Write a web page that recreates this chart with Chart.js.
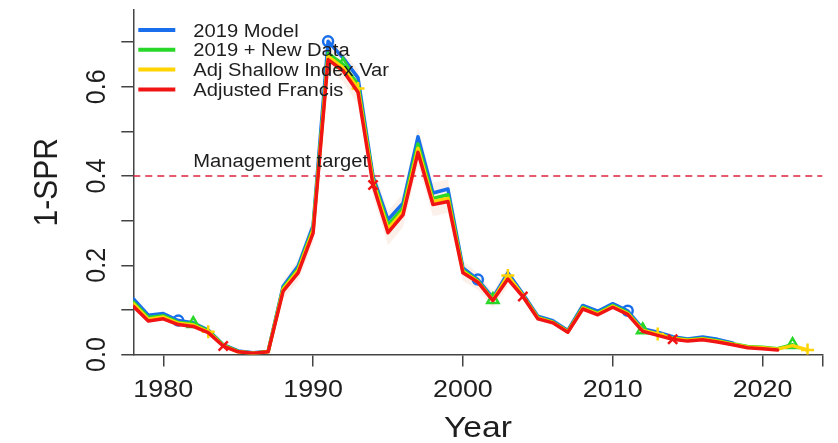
<!DOCTYPE html>
<html>
<head>
<meta charset="utf-8">
<title>1-SPR by year</title>
<script src="https://cdn.jsdelivr.net/npm/chart.js@4/dist/chart.umd.min.js"></script>
<style>
  html, body { margin: 0; padding: 0; background: #ffffff; }
  #wrap { width: 838px; height: 443px; position: relative; }
</style>
</head>
<body>
<div id="wrap"><canvas id="chart"></canvas></div>
<script>
// ---- data -------------------------------------------------------------
const years = [1978, 1979, 1980, 1981, 1982, 1983, 1984, 1985, 1986, 1987,
               1988, 1989, 1990, 1991, 1992, 1993, 1994, 1995, 1996, 1997,
               1998, 1999, 2000, 2001, 2002, 2003, 2004, 2005, 2006, 2007,
               2008, 2009, 2010, 2011, 2012, 2013, 2014, 2015, 2016, 2017,
               2018, 2019, 2020, 2021, 2022, 2023];

const seriesNames = ["2019 Model", "2019 + New Data", "Adj Shallow Index Var", "Adjusted Francis"];

// 1978-2018
const model2019 = [0.125, 0.088, 0.092, 0.076, 0.071, 0.055, 0.022, 0.008, 0.004, 0.007,
                   0.153, 0.198, 0.289, 0.702, 0.665, 0.620, 0.399, 0.302, 0.339, 0.488,
                   0.362, 0.371, 0.194, 0.168, 0.127, 0.183, 0.136, 0.086, 0.076, 0.054,
                   0.110, 0.097, 0.114, 0.098, 0.058, 0.050, 0.040, 0.035, 0.039, 0.034,
                   0.026];

// 1978-2022
const newData2019 = [0.118, 0.083, 0.087, 0.072, 0.069, 0.053, 0.021, 0.007, 0.003, 0.007,
                     0.149, 0.192, 0.282, 0.675, 0.650, 0.605, 0.392, 0.290, 0.328, 0.472,
                     0.350, 0.358, 0.189, 0.165, 0.123, 0.176, 0.133, 0.083, 0.073, 0.052,
                     0.106, 0.093, 0.110, 0.094, 0.055, 0.046, 0.037, 0.033, 0.036, 0.031,
                     0.024, 0.018, 0.016, 0.013, 0.022];

// 1978-2023
const adjShallowIndexVar = [0.114, 0.079, 0.084, 0.070, 0.066, 0.051, 0.020, 0.006, 0.003, 0.006,
                            0.146, 0.188, 0.278, 0.668, 0.643, 0.596, 0.387, 0.282, 0.320, 0.462,
                            0.343, 0.350, 0.186, 0.163, 0.122, 0.177, 0.132, 0.082, 0.072, 0.051,
                            0.104, 0.091, 0.108, 0.092, 0.054, 0.046, 0.036, 0.032, 0.035, 0.030,
                            0.023, 0.017, 0.015, 0.012, 0.020, 0.010];

// 1978-2021
const adjustedFrancis = [0.108, 0.075, 0.080, 0.067, 0.063, 0.049, 0.019, 0.006, 0.003, 0.006,
                         0.142, 0.183, 0.272, 0.661, 0.636, 0.588, 0.380, 0.273, 0.313, 0.453,
                         0.336, 0.343, 0.183, 0.162, 0.121, 0.169, 0.130, 0.080, 0.071, 0.050,
                         0.102, 0.089, 0.106, 0.090, 0.052, 0.043, 0.034, 0.030, 0.033, 0.028,
                         0.022, 0.015, 0.013, 0.010];

// faint uncertainty envelope around the peak years
const bandYears = [1988, 1989, 1990, 1991, 1992, 1993, 1994, 1995, 1996, 1997,
                   1998, 1999, 2000, 2001, 2002, 2003];
const bandLow   = [0.125, 0.165, 0.250, 0.640, 0.612, 0.560, 0.355, 0.245, 0.285, 0.425,
                   0.310, 0.318, 0.165, 0.145, 0.105, 0.152];
const bandHigh  = [0.165, 0.212, 0.305, 0.715, 0.680, 0.640, 0.420, 0.322, 0.360, 0.510,
                   0.385, 0.392, 0.210, 0.182, 0.140, 0.196];

// marker years for each series
const model2019Marks = [1981, 1991, 2001, 2011];
const newData2019Marks = [1982, 1992, 2002, 2012, 2022];
const adjShallowMarks = [1983, 1993, 2003, 2013, 2023];
const adjFrancisMarks = [1984, 1994, 2004, 2014];

const managementTarget = 0.4;
const managementLabel = "Management target";

// axes
const xRange = [1978, 2024];
const yRange = [0, 0.7722];
const xTickValues = [1980, 1990, 2000, 2010, 2020, 2024];
const xTickLabels = [1980, 1990, 2000, 2010, 2020];
const yTickValues = [0, 0.1, 0.2, 0.3, 0.4, 0.5, 0.6, 0.7];
const yTickLabels = [0, 0.2, 0.4, 0.6];
const xTitle = "Year";
const yTitle = "1-SPR";

// ---- styling ------------------------------------------------------------
const COLORS = ["rgb(25,110,235)", "rgb(40,215,40)", "rgb(255,212,0)", "rgb(240,20,20)"];
const AXIS_COLOR = "#444444";
const TEXT_COLOR = "#1e1e1e";
const FONT = '"Liberation Sans", Arial, sans-serif';
const SX = 1.12;   // horizontal text stretch

function toPoints(xs, ys) {
  return ys.map((v, i) => ({ x: xs[i], y: v }));
}

function seriesDataset(label, values, color, marks, style, radius, order) {
  return {
    label: label,
    data: toPoints(years, values),
    borderColor: color,
    borderWidth: 3.5,
    borderJoinStyle: "round",
    borderCapStyle: "round",
    tension: 0,
    fill: false,
    pointStyle: style,
    pointRadius: (ctx) => (ctx.raw && marks.includes(ctx.raw.x)) ? radius : 0,
    pointBorderColor: color,
    pointBackgroundColor: "rgba(0,0,0,0)",
    pointBorderWidth: 2.5,
    order: order
  };
}

function stretchText(ctx, str, x, y, opt) {
  ctx.save();
  ctx.translate(x, y);
  ctx.scale(SX, 1);
  if (opt.rot) ctx.rotate(-Math.PI / 2);
  ctx.font = opt.size + "px " + FONT;
  ctx.fillStyle = opt.color || TEXT_COLOR;
  ctx.textAlign = opt.align || "left";
  ctx.textBaseline = "alphabetic";
  ctx.fillText(str, 0, 0);
  ctx.restore();
}

const textPlugin = {
  id: "rText",
  afterDraw(chart) {
    const ctx = chart.ctx;
    const area = chart.chartArea;
    const xs = chart.scales.x;
    const ys = chart.scales.y;

    // tick labels
    xTickLabels.forEach((v) => {
      stretchText(ctx, String(v), xs.getPixelForValue(v), 397, { size: 24, align: "center" });
    });
    yTickLabels.forEach((v) => {
      stretchText(ctx, v.toFixed(1), 105, ys.getPixelForValue(v), { size: 25, align: "center", rot: true });
    });

    // axis titles
    stretchText(ctx, xTitle, (area.left + area.right) / 2, 437, { size: 30, align: "center" });
    stretchText(ctx, yTitle, 57, (area.top + area.bottom) / 2, { size: 30, align: "center", rot: true });

    // management target label
    stretchText(ctx, managementLabel, area.left + 60, ys.getPixelForValue(managementTarget) - 9, { size: 18 });

    // legend
    seriesNames.forEach((name, i) => {
      const y = area.top + 20 + i * 19.8;
      ctx.save();
      ctx.strokeStyle = COLORS[i];
      ctx.lineWidth = 4;
      ctx.beginPath();
      ctx.moveTo(area.left + 5, y);
      ctx.lineTo(area.left + 42, y);
      ctx.stroke();
      ctx.restore();
      stretchText(ctx, name, area.left + 60, y + 6.5, { size: 18 });
    });
  }
};

const chart = new Chart(document.getElementById("chart"), {
  type: "line",
  data: {
    datasets: [
      {
        label: "band low",
        data: toPoints(bandYears, bandLow),
        borderWidth: 0,
        borderColor: "rgba(0,0,0,0)",
        pointRadius: 0,
        fill: false,
        order: 20
      },
      {
        label: "band high",
        data: toPoints(bandYears, bandHigh),
        borderWidth: 0,
        borderColor: "rgba(0,0,0,0)",
        backgroundColor: "rgba(235,190,160,0.22)",
        pointRadius: 0,
        fill: 0,
        order: 19
      },
      {
        label: managementLabel,
        data: toPoints(xRange, [managementTarget, managementTarget]),
        borderColor: "rgb(222,35,60)",
        borderWidth: 1.5,
        borderDash: [7, 5],
        pointRadius: 0,
        fill: false,
        order: 10
      },
      seriesDataset(seriesNames[0], model2019, COLORS[0], model2019Marks, "circle", 5, 3),
      seriesDataset(seriesNames[1], newData2019, COLORS[1], newData2019Marks, "triangle", 6.5, 2),
      seriesDataset(seriesNames[2], adjShallowIndexVar, COLORS[2], adjShallowMarks, "cross", 6.5, 1),
      seriesDataset(seriesNames[3], adjustedFrancis, COLORS[3], adjFrancisMarks, "crossRot", 6.5, 0)
    ]
  },
  options: {
    responsive: true,
    maintainAspectRatio: false,
    animation: false,
    events: [],
    layout: { padding: { left: 0, top: 10, right: 15.5, bottom: 0 } },
    plugins: {
      legend: { display: false },
      tooltip: { enabled: false },
      title: { display: false }
    },
    scales: {
      x: {
        type: "linear",
        min: xRange[0],
        max: xRange[1],
        afterBuildTicks: (s) => { s.ticks = xTickValues.map((v) => ({ value: v })); },
        afterFit: (s) => { s.height = 88.5; },
        ticks: { display: false },
        grid: { drawOnChartArea: false, drawTicks: true, tickLength: 12, color: AXIS_COLOR, lineWidth: 1.5 },
        border: { display: true, color: AXIS_COLOR, width: 1.5 }
      },
      y: {
        type: "linear",
        min: yRange[0],
        max: yRange[1],
        afterBuildTicks: (s) => { s.ticks = yTickValues.map((v) => ({ value: v })); },
        afterFit: (s) => { s.width = 133.3; },
        ticks: { display: false },
        grid: { drawOnChartArea: false, drawTicks: true, tickLength: 12, color: AXIS_COLOR, lineWidth: 1.5 },
        border: { display: true, color: AXIS_COLOR, width: 1.5 }
      }
    }
  },
  plugins: [textPlugin]
});
</script>
</body>
</html>
